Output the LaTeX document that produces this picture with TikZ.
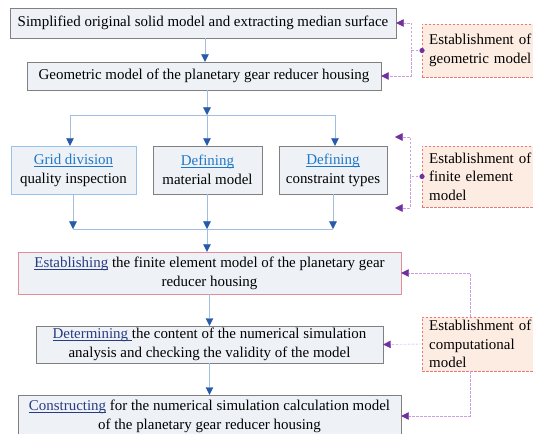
\documentclass[tikz,border=0pt]{standalone}
\usepackage{fontspec}
\setmainfont{Liberation Serif}
\usetikzlibrary{arrows.meta}
\definecolor{boxfill}{RGB}{238,241,246}
\definecolor{boxline}{RGB}{128,128,128}
\definecolor{gridline}{RGB}{150,195,235}
\definecolor{femline}{RGB}{230,140,150}
\definecolor{sidefill}{RGB}{253,236,226}
\definecolor{sideline}{RGB}{235,120,120}
\definecolor{flowline}{RGB}{160,190,225}
\definecolor{flowtip}{RGB}{40,90,170}
\definecolor{linkline}{RGB}{200,160,225}
\definecolor{linktip}{RGB}{112,48,160}
\definecolor{lightlink}{RGB}{30,120,200}
\definecolor{darklink}{RGB}{40,60,130}
\newcommand{\refline}[2]{{\color{#1}\setbox0\hbox{#2}\rlap{\rule[-2.2bp]{\wd0}{0.6bp}}\box0}}
\newcommand{\lightref}[1]{\refline{lightlink}{#1}}
\newcommand{\darkref}[1]{\refline{darklink}{#1}}
\tikzset{
  stage/.style={draw=boxline, fill=boxfill, align=center, inner sep=2bp,
    font=\fontsize{15}{19}\selectfont},
  phase/.style={draw=sideline, fill=sidefill, dash pattern=on 2.5bp off 1.5bp, align=left,
    text width=108bp, inner xsep=7bp, inner ysep=3bp, anchor=west,
    font=\fontsize{15}{18.5}\selectfont},
  flow/.style={draw=flowline, -{Triangle[width=7.5bp,length=7.5bp,color=flowtip]}},
  plain/.style={draw=flowline},
  link/.style={draw=linkline, dash pattern=on 2.5bp off 1.5bp,
    -{Triangle[width=7.5bp,length=7.5bp,color=linktip]}},
  linkdot/.style={fill=linktip, draw=none}
}
\begin{document}
\begin{tikzpicture}[x=1bp,y=-1bp]
\useasboundingbox (0,0) rectangle (533,434);

\node[stage, minimum width=386bp, minimum height=30bp] (simp) at (203,23)
  {Simplified original solid model and extracting median surface};
\node[stage, minimum width=354bp, minimum height=28bp] (geo) at (204,76)
  {Geometric model of the planetary gear reducer housing};
\node[stage, draw=gridline, minimum width=125bp, minimum height=48bp] (grid) at (73.5,170)
  {\lightref{Grid division}\\quality inspection};
\node[stage, minimum width=109bp, minimum height=48bp] (mat) at (207.5,170)
  {\lightref{Defining}\\material model};
\node[stage, minimum width=108bp, minimum height=48bp] (cons) at (333,170)
  {\lightref{Defining}\\constraint types};
\node[stage, draw=femline, minimum width=383bp, minimum height=42bp] (fem) at (209.5,273)
  {\darkref{Establishing} the finite element model of the planetary gear\\reducer housing};
\node[stage, minimum width=347bp, minimum height=37bp] (det) at (209.5,344.5)
  {\darkref{Determining\ }the content of the numerical simulation\\analysis and checking the validity of the model};
\node[stage, minimum width=383bp, minimum height=42bp] (calc) at (209.5,416)
  {\darkref{Constructing} for the numerical simulation calculation model\\of the planetary gear reducer housing};

\node[phase, minimum height=53bp] (sgeo) at (422,50.5) {Establishment of\\geometric model};
\node[phase, minimum height=61bp] (sfem) at (422,176.5) {Establishment of\\finite element\\model};
\node[phase, minimum height=54bp] (scomp) at (422,344) {Establishment of\\computational\\model};

\coordinate (jt) at (207,115);
\coordinate (jb) at (207,229);
\draw[flow] (simp.south -| 205,0) -- (geo.north -| 205,0);
\draw[flow] (geo.south -| jt) -- (jt);
\draw[plain] (70,115) -- (335,115);
\draw[flow] (70,115) -- (grid.north -| 70,0);
\draw[flow] (jt) -- (mat.north -| jt);
\draw[flow] (335,115) -- (cons.north -| 335,0);
\draw[flow] (grid.south -| 73,0) -- (73,229);
\draw[flow] (mat.south -| jb) -- (jb);
\draw[flow] (cons.south -| 333,0) -- (333,229);
\draw[plain] (73,229) -- (333,229);
\draw[flow] (jb) -- (fem.north -| jb);
\draw[flow] (fem.south) -- (det.north);
\draw[flow] (det.south) -- (calc.north);

\coordinate (gbend) at (411,50.5);
\draw[link] (sgeo.west) -- (gbend) |- (simp.east);
\draw[link] (gbend) |- (geo.east);
\fill[linkdot] (sgeo.west) circle (2.6bp);

\coordinate (fbend) at (410,176.5);
\coordinate (fup) at (395,137);
\coordinate (fdown) at (395,208);
\draw[link] (sfem.west) -- (fbend) |- (fup);
\draw[link] (fbend) |- (fdown);
\fill[linkdot] (sfem.west) circle (2.6bp);

\draw[link] (scomp.north -| 470,0) |- (fem.east);
\draw[link] (scomp.west) -- (det.east);
\draw[link] (scomp.south -| 470,0) |- (calc.east);
\end{tikzpicture}
\end{document}
